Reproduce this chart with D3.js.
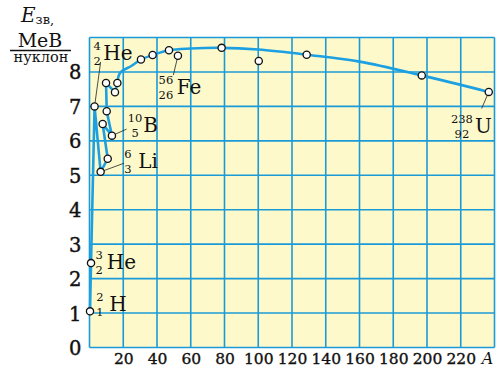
<!DOCTYPE html>
<html><head><meta charset="utf-8">
<script src="https://cdn.jsdelivr.net/npm/d3@7"></script>
<style>body{margin:0;background:#fff}svg{display:block}</style>
</head><body><svg id="c" width="501" height="367"></svg>
<script>
// ---- data ----
const pointA = [0.3, 0.9, 3, 6.6, 10.8, 7.8, 13.3, 10.2, 9.8, 15.1, 16.5, 30.5, 37.4, 47.1, 52.4, 78.3, 100.3, 128.7, 196.9, 236.6];
const pointE = [1.05, 2.45, 7.0, 5.1, 5.48, 6.49, 6.15, 6.86, 7.68, 7.41, 7.68, 8.36, 8.49, 8.63, 8.47, 8.70, 8.32, 8.50, 7.90, 7.42];
// jagged part of the curve (light nuclei)
const lightA = [0.3, 0.9, 3, 6.6, 10.8, 7.8, 13.3, 10.2, 9.8, 15.1, 16.5];
const lightE = [1.05, 2.45, 7.0, 5.1, 5.48, 6.49, 6.15, 6.86, 7.68, 7.41, 7.68];
// smooth part of the curve
const heavyA = [16.5, 18.1, 25, 30.5, 37.4, 47.1, 60, 78.3, 100, 128.7, 160, 196.9, 236.6];
const heavyE = [7.68, 7.97, 8.18, 8.36, 8.49, 8.63, 8.68, 8.70, 8.65, 8.50, 8.30, 7.90, 7.42];
const xTicks = [20, 40, 60, 80, 100, 120, 140, 160, 180, 200, 220];
const yTicks = [0, 1, 2, 3, 4, 5, 6, 7, 8];
const labelSym = ["He", "Fe", "B", "Li", "He", "H", "U"];
const labelMass = ["4", "56", "10", "6", "3", "2", "238"];
const labelZ = ["2", "26", "5", "3", "2", "1", "92"];
// label layout (data coords of number column / symbol centre line, leader ends)
const labelColA = [4.56, 45.3, 27.0, 22.8, 5.75, 6.1, 220.7];
const labelRowE = [8.56, 7.58, 6.47, 5.42, 2.49, 1.28, 6.44];
const labelSymDx = [6.1, 10.7, 8.3, 10.3, 7.5, 9.5, 13];
const leaderFrom = [[3, 7.0], [52.4, 8.47], [13.3, 6.15], [6.6, 5.1], null, null, [236.6, 7.42]];
const leaderTo = [[6.6, 8.29], [49.7, 7.91], [22.0, 6.34], [20.4, 5.35], null, null, [232.4, 6.94]];

// ---- drawing ----
const svg = d3.select("#c");
const serif = "'DejaVu Serif', serif";
const x = d3.scaleLinear().domain([0, 240]).range([89.5, 494.5]);
const y = d3.scaleLinear().domain([0, 9]).range([347.5, 37.5]);
const blue = "#1b9ad8";
const ink = "#111";

svg.append("rect").attr("x", x(0)).attr("y", y(9)).attr("width", x(240) - x(0)).attr("height", y(0) - y(9)).attr("fill", "#fdf9cb");

const grid = svg.append("g").attr("stroke", blue).attr("stroke-width", 1.6);
d3.range(0, 241, 20).forEach(v => grid.append("line").attr("x1", x(v)).attr("x2", x(v)).attr("y1", y(0)).attr("y2", y(9)));
d3.range(0, 10, 1).forEach(v => grid.append("line").attr("y1", y(v)).attr("y2", y(v)).attr("x1", x(0)).attr("x2", x(240)));

// axes tick labels via d3 axes
const xAxis = d3.axisBottom(x).tickValues(xTicks).tickSize(0).tickPadding(0);
const gx = svg.append("g").attr("transform", `translate(0,${y(0)})`).call(xAxis);
gx.select(".domain").remove();
gx.selectAll("text").attr("font-family", serif).attr("font-size", 15.5).attr("fill", ink)
  .attr("stroke", ink).attr("stroke-width", 0.35).attr("y", 16.5).attr("dy", 0);
svg.append("text").attr("x", x(240) - 7).attr("y", 364).attr("text-anchor", "middle").attr("font-family", serif).attr("font-style", "italic").attr("font-size", 16).attr("fill", ink).text("A");

const yAxis = d3.axisLeft(y).tickValues(yTicks).tickSize(0).tickPadding(8);
const gy = svg.append("g").attr("transform", `translate(${x(0)},0)`).call(yAxis);
gy.select(".domain").remove();
gy.selectAll("text").attr("font-family", serif).attr("font-size", 19.5).attr("fill", ink)
  .attr("stroke", ink).attr("stroke-width", 0.4).attr("dy", "0.36em");

// y title
const t = svg.append("g").attr("font-family", serif).attr("fill", ink);
const e = t.append("text").attr("x", 21).attr("y", 22);
e.append("tspan").attr("font-style", "italic").attr("font-size", 20).text("E");
e.append("tspan").attr("font-size", 13).attr("dy", 2).text("зв,");
t.append("text").attr("x", 40).attr("y", 46.5).attr("text-anchor", "middle").attr("font-size", 19).text("МеВ");
t.append("line").attr("x1", 10).attr("x2", 71).attr("y1", 50.5).attr("y2", 50.5).attr("stroke", ink).attr("stroke-width", 1.3);
t.append("text").attr("x", 41).attr("y", 62).attr("text-anchor", "middle").attr("font-size", 14.5).text("нуклон");

// curve
const lineLin = d3.line().x(d => x(d[0])).y(d => y(d[1]));
const lineSm = d3.line().x(d => x(d[0])).y(d => y(d[1])).curve(d3.curveCatmullRom.alpha(0.5));
svg.append("path").attr("d", lineLin(lightA.map((a, i) => [a, lightE[i]]))).attr("fill", "none").attr("stroke", "#1ca0e2").attr("stroke-width", 2.6).attr("stroke-linejoin", "round");
svg.append("path").attr("d", lineSm(heavyA.map((a, i) => [a, heavyE[i]]))).attr("fill", "none").attr("stroke", "#1ca0e2").attr("stroke-width", 2.6);

// leader lines
leaderFrom.forEach((f, i) => {
  if (!f) return;
  svg.append("line").attr("x1", x(f[0])).attr("y1", y(f[1])).attr("x2", x(leaderTo[i][0])).attr("y2", y(leaderTo[i][1])).attr("stroke", "#222").attr("stroke-width", 0.8);
});

// points
svg.append("g").selectAll("circle").data(pointA.map((a, i) => [a, pointE[i]])).join("circle")
  .attr("cx", d => x(d[0])).attr("cy", d => y(d[1])).attr("r", 3.6)
  .attr("fill", "#fff").attr("stroke", ink).attr("stroke-width", 1.3);

// labels
const lg = svg.append("g").attr("font-family", serif).attr("fill", ink);
labelSym.forEach((s, i) => {
  const cx = x(labelColA[i]), cy = y(labelRowE[i]);
  lg.append("text").attr("x", cx).attr("y", cy - 7).attr("dy", "0.36em").attr("text-anchor", "middle").attr("font-size", 11.5).text(labelMass[i]);
  lg.append("text").attr("x", cx).attr("y", cy + 8.5).attr("dy", "0.36em").attr("text-anchor", "middle").attr("font-size", 11.5).text(labelZ[i]);
  lg.append("text").attr("x", cx + labelSymDx[i]).attr("y", cy).attr("dy", "0.36em").attr("font-size", 20).text(s);
});
</script></body></html>
